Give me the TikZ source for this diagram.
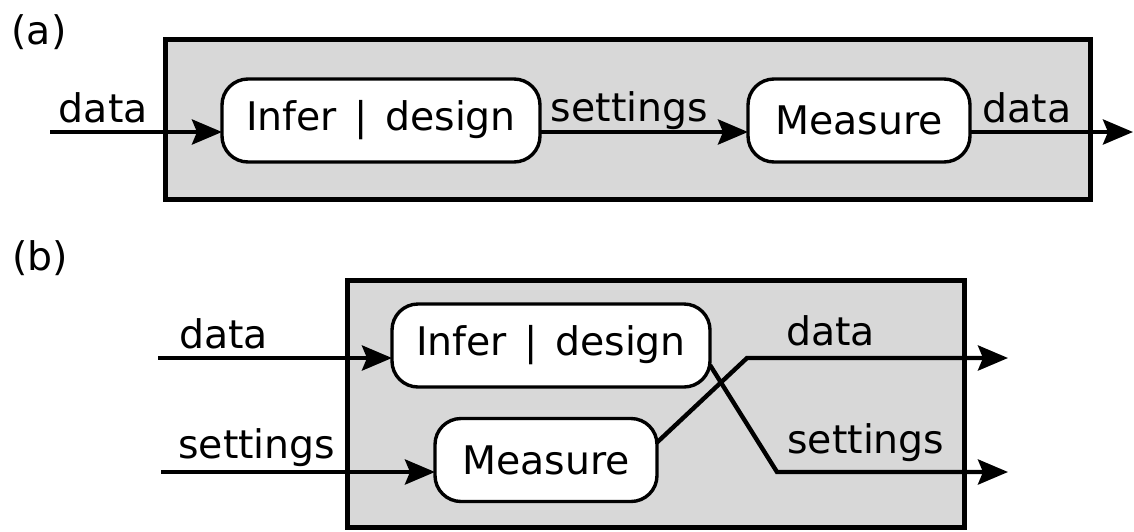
\documentclass[tikz,border=0pt]{standalone}
\usepackage{fontspec}
\setmainfont{DejaVu Sans}
\usetikzlibrary{arrows.meta,positioning}
\definecolor{boxcolor}{RGB}{216,216,216}

\begin{document}
\begin{tikzpicture}[%
    x=0.5pt, y=-0.5pt,          % one unit per pixel, y going down
    >={Stealth[length=15pt,width=12.5pt,inset=2.5pt]}, % filled arrow heads
    line width=2.2pt,           % default for the connectors
    ]
\tikzset{
  txt/.style={font=\fontsize{19.7pt}{23pt}\selectfont, inner sep=0pt, outer sep=0pt},
  frame/.style={draw, line width=2.5pt, fill=boxcolor, inner sep=0pt, outer sep=0pt},
  proc/.style={txt, draw, line width=1.7pt, fill=white, rounded corners=13pt, minimum height=41.5pt},
  lbl/.style={txt, anchor=base, yshift=#1},
  lbl/.default=5pt,
}
\newcommand{\infdes}{Infer\hspace{2.5pt} |\hspace{2.5pt} design}
\useasboundingbox (0,0) rectangle (1134,531);

% (a) one block after the other
\node [frame, minimum width=462.5pt, minimum height=80pt] (boxa) at (627.5,119) {};
\node [proc, minimum width=159pt] (infa) at (381,120.5) {\infdes};
\node [proc, minimum width=111pt, right=104pt of infa] (meaa) {Measure};
\node [txt] (laba) at (39,32) {(a)};

% (b) both blocks side by side
\node [frame, minimum width=308.75pt, minimum height=123.5pt] (boxb) at (655.75,404) {};
\node [proc, minimum width=159pt] (infb) at (551,345.5) {\infdes};
\node [proc, minimum width=111pt] (meab) at (546,460) {Measure};
\node [txt] (labb) at (40,258) {(b)};

\coordinate (ain) at (50,132);
\coordinate (aout) at (1133,132);
\coordinate (bdin) at (158,358);
\coordinate (bsin) at (161,472);
\coordinate (bdk) at (747,358);
\coordinate (bsk) at (777,472);
\coordinate (bdout) at (1008,358);
\coordinate (bsout) at (1008,472);

\draw [->] (ain) -- node [lbl, pos=.31] {data} (infa.west |- ain);
\draw [->] (infa.east |- ain) -- node [lbl=5.5pt, pos=.43] {settings} (meaa.west |- ain);
\draw [->] (meaa.east |- ain) -- node [lbl, pos=.35] {data} (aout);

\draw [->] (bdin) -- node [lbl, pos=.28] {data} (infb.west |- bdin);
\draw [->] (bsin) -- node [lbl=7pt, pos=.35] {settings} (meab.west |- bsin);
\draw [->] (meab.9) -- (bdk) -- node [lbl=6.5pt, pos=.32] {data} (bdout);
\draw [->] (infb.-7) -- (bsk) -- node [lbl=9.5pt, pos=.385] {settings} (bsout);

\end{tikzpicture}
\end{document}
